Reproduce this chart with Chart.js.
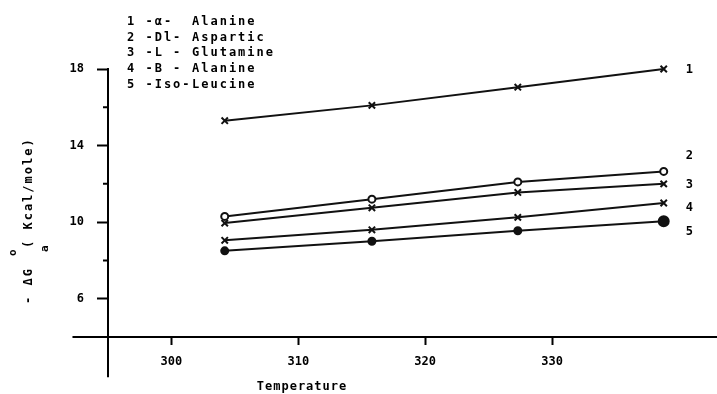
<!DOCTYPE html>
<html>
<head>
<meta charset="utf-8">
<script src="https://cdn.jsdelivr.net/npm/chart.js@4.4.0/dist/chart.umd.min.js"></script>
<style>
  html, body { margin: 0; padding: 0; background: #fff; }
  #wrap { width: 717px; height: 394px; }
</style>
</head>
<body>
<div id="wrap"><canvas id="chart" width="717" height="394"></canvas></div>
<script>
// temperatures
const temperatures = [304.2, 315.8, 327.3, 338.8];

// - dG (kcal/mole) for each amino acid
const alphaAlanine = [15.3, 16.1, 17.05, 18.0];
const dlAspartic   = [10.3, 11.2, 12.1, 12.65];
const lGlutamine   = [9.95, 10.75, 11.55, 12.0];
const betaAlanine  = [9.05, 9.6, 10.25, 11.0];
const isoLeucine   = [8.5, 9.0, 9.55, 10.05];

const seriesCodes = ['1 -\u03b1-', '2 -Dl-', '3 -L -', '4 -B -', '5 -Iso-'];
const seriesNames = ['Alanine', 'Aspartic', 'Glutamine', 'Alanine', 'Leucine'];
const seriesTags = ['1', '2', '3', '4', '5'];

const xTicks = [300, 310, 320, 330];
const yTicks = [6, 8, 10, 12, 14, 16, 18];
const yLabelled = [6, 10, 14, 18];

const FONT = '"DejaVu Sans Mono", monospace';

const makeSet = (i, data, style, fill, radius) => ({
  label: seriesCodes[i] + ' ' + seriesNames[i],
  data: data.map((v, k) => ({ x: temperatures[k], y: v })),
  borderColor: '#111',
  borderWidth: 2,
  pointStyle: style,
  pointRadius: radius,
  pointBorderColor: '#111',
  pointBorderWidth: 2,
  pointBackgroundColor: fill,
  tension: 0,
  clip: false
});

const datasets = [
  makeSet(0, alphaAlanine, 'crossRot', '#111', 4.5),
  makeSet(1, dlAspartic, 'circle', '#fff', 3.5),
  makeSet(2, lGlutamine, 'crossRot', '#111', 4.5),
  makeSet(3, betaAlanine, 'crossRot', '#111', 4.5),
  makeSet(4, isoLeucine, 'circle', '#111', (c) => c.dataIndex === 3 ? 5 : 3.5)
];

// where the tag numbers sit relative to each line's last point
const tagOffsets = [1, -16, 1, 5, 11];

const annotate = {
  id: 'annotate',
  afterDraw(chart) {
    const ctx = chart.ctx;
    const xs = chart.scales.x, ys = chart.scales.y;
    const x0 = xs.getPixelForValue(xs.min), y0 = ys.getPixelForValue(ys.min);

    ctx.save();
    ctx.strokeStyle = '#000';
    ctx.lineWidth = 2;
    // axes run on past the crossing point
    ctx.beginPath();
    ctx.moveTo(xs.getPixelForValue(292.2), y0);
    ctx.lineTo(x0, y0);
    ctx.moveTo(x0, y0);
    ctx.lineTo(x0, ys.getPixelForValue(1.9));
    // short unlabelled ticks
    yTicks.filter(v => !yLabelled.includes(v)).forEach(v => {
      const p = ys.getPixelForValue(v);
      ctx.moveTo(x0 - 5, p);
      ctx.lineTo(x0, p);
    });
    ctx.stroke();

    ctx.fillStyle = '#000';
    ctx.textBaseline = 'middle';
    ctx.textAlign = 'left';
    ctx.font = 'bold 12px ' + FONT;
    ctx.letterSpacing = '2px';

    // legend block
    seriesCodes.forEach((c, i) => {
      const yy = 22 + i * 15.6;
      ctx.fillText(c, 127, yy);
      ctx.fillText(seriesNames[i], i === 4 ? 192 : 192, yy);
    });

    // tags at the line ends
    chart.data.datasets.forEach((ds, i) => {
      const last = ds.data[ds.data.length - 1];
      ctx.fillText(seriesTags[i], xs.getPixelForValue(last.x) + 22, ys.getPixelForValue(last.y) + tagOffsets[i]);
    });

    // x title
    ctx.letterSpacing = '1px';
    ctx.textAlign = 'center';
    ctx.fillText('Temperature', 302, 387);

    // y title, rotated
    ctx.save();
    ctx.translate(29, 304);
    ctx.rotate(-Math.PI / 2);
    ctx.textAlign = 'left';
    ctx.letterSpacing = '2px';
    ctx.fillText('- \u0394G', 0, 0);
    ctx.font = 'bold 11px ' + FONT;
    ctx.fillText('o', 48, -16);
    ctx.fillText('a', 52, 16);
    ctx.font = 'bold 12px ' + FONT;
    ctx.fillText('( Kcal/mole)', 56, 0);
    ctx.restore();

    ctx.restore();
  }
};

new Chart(document.getElementById('chart'), {
  type: 'line',
  data: { datasets: datasets },
  options: {
    responsive: false,
    animation: false,
    layout: { autoPadding: false, padding: { top: 69, right: 0, bottom: 0, left: 0 } },
    plugins: { legend: { display: false }, tooltip: { enabled: false } },
    scales: {
      x: {
        type: 'linear',
        min: 295,
        max: 343,
        afterBuildTicks: (s) => { s.ticks = xTicks.map(v => ({ value: v })); },
        afterFit: (s) => { s.height = 57; },
        ticks: {
          color: '#000',
          padding: 10,
          maxRotation: 0,
          font: { family: FONT, size: 12, weight: 'bold' },
          callback: (v) => String(v)
        },
        grid: { drawOnChartArea: false, drawTicks: true, tickLength: 8, tickColor: '#000', tickWidth: 2 },
        border: { display: true, color: '#000', width: 2 }
      },
      y: {
        min: 4,
        max: 18,
        afterBuildTicks: (s) => { s.ticks = yTicks.map(v => ({ value: v })); },
        afterFit: (s) => { s.width = 108; },
        ticks: {
          color: '#000',
          padding: 13,
          font: { family: FONT, size: 12, weight: 'bold' },
          callback: (v) => yLabelled.includes(v) ? String(v) : ''
        },
        grid: {
          drawOnChartArea: false,
          drawTicks: true,
          tickLength: 11,
          tickWidth: 2,
          tickColor: (c) => (c.tick && yLabelled.includes(c.tick.value)) ? '#000' : 'rgba(0,0,0,0)'
        },
        border: { display: true, color: '#000', width: 2 }
      }
    }
  },
  plugins: [annotate]
});
</script>
</body>
</html>
